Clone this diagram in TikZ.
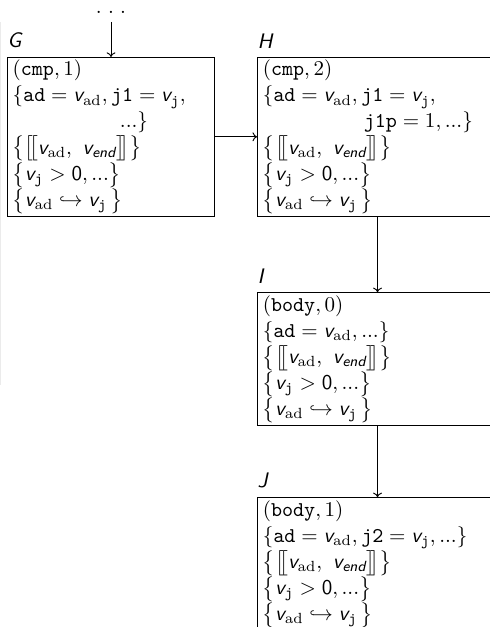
\documentclass[tikz,border=0pt]{standalone}
\usepackage{amsmath,amssymb}
\usepackage{tikz}
\usetikzlibrary{arrows.meta,positioning}
\newcommand{\sv}{\text{\sffamily\itshape v}}
\newcommand{\vad}{\sv_{\mathrm{ad}}}
\newcommand{\vj}{\sv_{\mathtt{j}}}
\newcommand{\vend}{\sv_{\text{\sffamily\itshape end}}}
\newcommand{\lbr}{\bigl[\mkern-4mu\bigl[}
\newcommand{\rbr}{\bigr]\mkern-4mu\bigr]}
\newcommand{\szero}{\text{\sffamily 0}}

\begin{document}
\begin{tikzpicture}[
    node distance=20pt,
    state/.style={rectangle, draw, line width=0.5pt, inner xsep=2.5pt, inner ysep=1.2pt, align=left, anchor=north west,
      execute at begin node={\baselineskip=12.4pt\lineskiplimit=-20pt}},
    narrow/.style={state, text width=93.5pt},
    wide/.style={state, text width=109pt},
    lbl/.style={font=\sffamily\itshape, inner xsep=0pt, inner ysep=4pt},
    arrow/.style={-{To[length=2.2pt,width=4.2pt]}, line width=0.45pt}
]
\useasboundingbox (0,0) rectangle (233pt,-298.2pt);
\clip (0,0) rectangle (233pt,-298.2pt);

% faint edge at the left
\draw[black!8, line width=0.6pt] (0.3pt,-10.5pt) -- (0.3pt,-183pt);

% States
\node[narrow] (G) at (3.3pt,-27.1pt) {%
  $(\mathtt{cmp}, 1)$\\
  $\{\mathtt{ad} = \vad, \mathtt{j1} = \vj,$\\
  \hspace*{51pt}$...\}$\\
  $\bigl\{\lbr\vad,\ \vend\rbr\bigr\}$\\
  $\bigl\{\vj > \szero, ...\bigr\}$\\
  $\bigl\{\vad \hookrightarrow \vj\,\bigr\}$};
\node[wide, anchor=west, right=20pt of G] (H) {%
  $(\mathtt{cmp}, 2)$\\
  $\{\mathtt{ad} = \vad, \mathtt{j1} = \vj,$\\
  \hspace*{48pt}$\mathtt{j1p} = 1, ...\}$\\
  $\bigl\{\lbr\vad,\ \vend\rbr\bigr\}$\\
  $\bigl\{\vj > \szero, ...\bigr\}$\\
  $\bigl\{\vad \hookrightarrow \vj\,\bigr\}$};
\node[wide, anchor=north, below=36pt of H] (I) {%
  $(\mathtt{body}, 0)$\\
  $\{\mathtt{ad} = \vad, ...\}$\\
  $\bigl\{\lbr\vad,\ \vend\rbr\bigr\}$\\
  $\bigl\{\vj > \szero, ...\bigr\}$\\
  $\bigl\{\vad \hookrightarrow \vj\,\bigr\}$};
\node[wide, anchor=north, below=34pt of I] (J) {%
  $(\mathtt{body}, 1)$\\
  $\{\mathtt{ad} = \vad, \mathtt{j2} = \vj, ...\}$\\
  $\bigl\{\lbr\vad,\ \vend\rbr\bigr\}$\\
  $\bigl\{\vj > \szero, ...\bigr\}$\\
  $\bigl\{\vad \hookrightarrow \vj\,\bigr\}$};

% Labels
\node[lbl, above right=0pt of G.north west] (labG) {G};
\node[lbl, above right=0pt of H.north west] (labH) {H};
\node[lbl, above right=0pt of I.north west] (labI) {I};
\node[lbl, above right=0pt of J.north west] (labJ) {J};

% Incoming
\node[anchor=base, inner ysep=3.8pt] (prev) at (G.north |- 0,-6.4pt) {.\hspace{3pt}.\hspace{3pt}.};

% Arrows
\draw[arrow] (prev) -- (G);
\draw[arrow] (G) -- (H);
\draw[arrow] (H) -- (I);
\draw[arrow] (I) -- (J);

\end{tikzpicture}
\end{document}
